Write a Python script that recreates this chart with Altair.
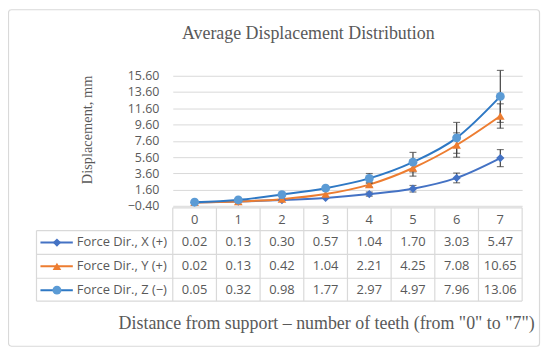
import altair as alt
import pandas as pd

cats = ["0", "1", "2", "3", "4", "5", "6", "7"]
series = ["Force Dir., X (+)", "Force Dir., Y (+)", "Force Dir., Z (\u2212)"]
x_dir = [0.02, 0.13, 0.30, 0.57, 1.04, 1.70, 3.03, 5.47]
y_dir = [0.02, 0.13, 0.42, 1.04, 2.21, 4.25, 7.08, 10.65]
z_dir = [0.05, 0.32, 0.98, 1.77, 2.97, 4.97, 7.96, 13.06]
x_err = [0, 0, 0, 0, 0.25, 0.40, 0.60, 1.05]
y_err = [0, 0, 0, 0, 0.30, 1.00, 1.50, 1.50]
z_err = [0, 0, 0, 0, 0.60, 1.20, 1.90, 3.20]
y_ticks = [-0.4, 1.6, 3.6, 5.6, 7.6, 9.6, 11.6, 13.6, 15.6]

line_colors = ["#4472C4", "#ED7D31", "#2E78C4"]
marker_colors = ["#4472C4", "#ED7D31", "#5B9BD5"]
shapes = ["diamond", "triangle-up", "circle"]
marker_sizes = [70, 80, 64]

rows = []
for i, (s, vals, errs) in enumerate(zip(series, [x_dir, y_dir, z_dir], [x_err, y_err, z_err])):
    for c, v, e in zip(cats, vals, errs):
        rows.append(dict(cat=c, series=s, value=v, err=e, lo=v - e, hi=v + e,
                         label=f"{v:.2f}", row=i))
df = pd.DataFrame(rows)

W, H = 352, 131
ROW0, ROWSTEP = 168, 24
GRAY = "#595959"
GRID = "#D9D9D9"
YTITLE = "Displacement, mm"

xs = alt.X("cat:N", scale=alt.Scale(type="point", padding=0.5, domain=cats), axis=None)
yscale = alt.Scale(domain=[-0.4, 15.6], nice=False, zero=False)
yaxis = alt.Axis(values=y_ticks, format=".2f", grid=True, gridColor=GRID, gridWidth=1,
                 domain=False, ticks=False, labelPadding=14, labelFont="Open Sans",
                 labelFontSize=12.5, labelColor=GRAY, labelOverlap=False, labelFlush=False,
                 title=YTITLE,
                 titleFont="Liberation Serif", titleFontSize=14.5, titleFontWeight="normal",
                 titleColor=GRAY, titleX=-86, titleY=54, titleAngle=-90,
                 titleAlign="center", titleBaseline="middle")
stroke_enc = alt.Stroke("series:N", scale=alt.Scale(domain=series, range=line_colors), legend=None)
fill_enc = alt.Fill("series:N", scale=alt.Scale(domain=series, range=marker_colors), legend=None)
shape_enc = alt.Shape("series:N", scale=alt.Scale(domain=series, range=shapes), legend=None)
size_enc = alt.Size("series:N", scale=alt.Scale(domain=series, range=marker_sizes), legend=None)


def yq(field):
    return alt.Y(field, scale=yscale, axis=yaxis, title=YTITLE)


base = alt.Chart(df)
cat_df = pd.DataFrame({"cat": cats})
one = pd.DataFrame({"k": [0]})
leg_df = df.drop_duplicates("series")
row_y = alt.Y("row_y:Q", scale=None)

border = alt.Chart(one).mark_rect(filled=False, stroke=GRID, strokeWidth=1.2, cornerRadius=3).encode(
    x=alt.value(-165.5), x2=alt.value(369.5), y=alt.value(-66.5), y2=alt.value(272.5))

hlines = alt.Chart(pd.DataFrame({"pos": [156, 180, 204, 227]})).mark_rule(
    color=GRID, strokeWidth=1.2).encode(
    x=alt.value(-137.3), x2=alt.value(W), y=alt.Y("pos:Q", scale=None))
htop = alt.Chart(one).mark_rule(color=GRID, strokeWidth=1.2).encode(
    x=alt.value(0), x2=alt.value(W), y=alt.value(133))
vlines = alt.Chart(cat_df).mark_rule(color=GRID, strokeWidth=1.2).encode(
    x=xs, xOffset=alt.value(-22), y=alt.value(133), y2=alt.value(227))
vright = alt.Chart(one).mark_rule(color=GRID, strokeWidth=1.2).encode(
    x=alt.value(W), y=alt.value(133), y2=alt.value(227))
vleft = alt.Chart(one).mark_rule(color=GRID, strokeWidth=1.2).encode(
    x=alt.value(-137.3), y=alt.value(156), y2=alt.value(227))

lines = base.mark_line(interpolate="monotone", strokeWidth=2).encode(
    x=xs, y=yq("value:Q"), stroke=stroke_enc, detail="series:N")

err_df = base.transform_filter("datum.err > 0")
ebars = err_df.mark_rule(color="#404040", strokeWidth=1.2).encode(
    x=xs, y=yq("lo:Q"), y2="hi:Q")
cap_lo = err_df.mark_tick(color="#404040", thickness=1.2, size=7).encode(
    x=xs, y=yq("lo:Q"))
cap_hi = err_df.mark_tick(color="#404040", thickness=1.2, size=7).encode(
    x=xs, y=yq("hi:Q"))

points = base.mark_point(filled=True, opacity=1).encode(
    x=xs, y=yq("value:Q"), fill=fill_enc, shape=shape_enc, size=size_enc)

table_txt = base.transform_calculate(row_y=f"{ROW0} + {ROWSTEP} * datum.row").mark_text(
    font="Open Sans", fontSize=13, color=GRAY, baseline="middle").encode(
    x=xs, y=row_y, text="label:N")

header_txt = alt.Chart(cat_df).mark_text(
    font="Open Sans", fontSize=13, color=GRAY, baseline="middle").encode(
    x=xs, y=alt.value(145.5), text="cat:N")

leg_base = alt.Chart(leg_df).transform_calculate(row_y=f"{ROW0} + {ROWSTEP} * datum.row")
leg_lines = leg_base.mark_rule(strokeWidth=2).encode(
    x=alt.value(-133.3), x2=alt.value(-100.7), y=row_y, stroke=stroke_enc)
leg_pts = leg_base.mark_point(filled=True, opacity=1).encode(
    x=alt.value(-116.7), y=row_y, fill=fill_enc, shape=shape_enc, size=size_enc)
leg_txt = leg_base.mark_text(font="Open Sans", fontSize=13, color=GRAY, align="left",
                             baseline="middle").encode(
    x=alt.value(-96.7), y=row_y, text="series:N")

title = alt.Chart(one).mark_text(
    text="Average Displacement Distribution", font="Liberation Serif", fontSize=18,
    fontWeight="normal", color=GRAY, align="center", baseline="middle").encode(
    x=alt.value(136.5), y=alt.value(-42.3))
xtitle = alt.Chart(one).mark_text(
    text='Distance from support \u2013 number of teeth (from "0" to "7")',
    font="Liberation Serif", fontSize=18, fontWeight="normal", color=GRAY, align="center",
    baseline="middle").encode(x=alt.value(155), y=alt.value(250.5))

chart = alt.layer(
    border, hlines, htop, vlines, vright, vleft,
    lines, ebars, cap_lo, cap_hi, points,
    table_txt, header_txt, leg_lines, leg_pts, leg_txt, title, xtitle
).properties(
    width=W, height=H,
    autosize=alt.AutoSizeParams(type="none"),
    padding={"left": 166, "top": 67, "right": 20, "bottom": 145},
    background="white",
).configure_view(stroke=None).configure_axis(labelOverlap=False)

chart.save("out.html", embed_options={"renderer": "svg", "actions": False})
